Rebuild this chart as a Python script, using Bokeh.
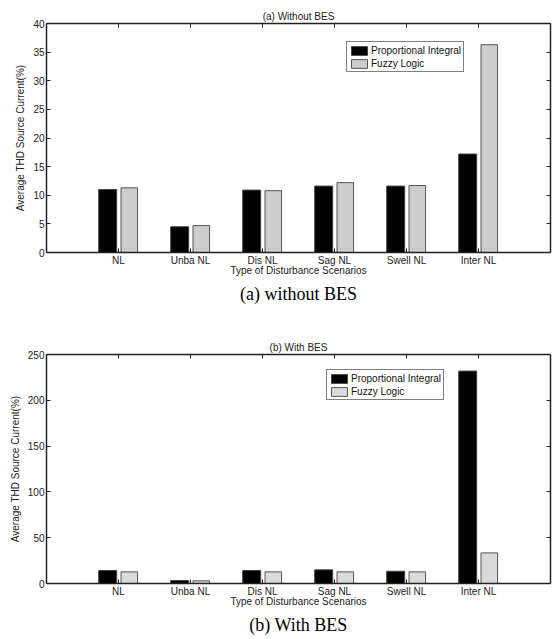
from bokeh.plotting import figure
from bokeh.models import LinearAxis, FixedTicker, Title, Legend, LegendItem, Range1d
from bokeh.layouts import column
from bokeh.embed import file_html
from bokeh.resources import INLINE

categories = ["NL", "Unba NL", "Dis NL", "Sag NL", "Swell NL", "Inter NL"]
pi_without = [11.0, 4.5, 10.9, 11.6, 11.6, 17.2]
fl_without = [11.3, 4.7, 10.8, 12.2, 11.7, 36.3]
pi_with = [14.2, 3.3, 14.2, 14.9, 13.4, 231.9]
fl_with = [12.7, 2.9, 12.7, 12.7, 12.7, 33.4]
yticks_without = [0, 5, 10, 15, 20, 25, 30, 35, 40]
yticks_with = [0, 50, 100, 150, 200, 250]
series_names = ["Proportional Integral", "Fuzzy Logic"]

SANS = "Liberation Sans"
SERIF = "Liberation Serif"
AX = "#222222"


def style_axis(ax, labels=True):
    ax.axis_line_color = AX
    ax.axis_line_width = 1.5
    ax.major_tick_line_color = AX
    ax.major_tick_line_width = 1
    ax.major_tick_in = 4
    ax.major_tick_out = 0
    ax.minor_tick_line_color = None
    ax.major_label_text_font = SANS
    ax.major_label_text_font_size = "10px"
    ax.major_label_text_color = "#222222"
    ax.major_label_standoff = 2
    if not labels:
        ax.major_label_text_alpha = 0
        ax.major_label_text_font_size = "1px"
        ax.major_label_standoff = 0


def make_panel(title, caption, pi, fl, yticks, gray, legend_loc, min_top, min_bottom,
               title_standoff, cap_standoff):
    xs = [i + 1 for i in range(len(categories))]
    p = figure(frame_width=504, frame_height=229,
               x_range=Range1d(0, len(categories) + 1),
               y_range=Range1d(yticks[0], yticks[-1]),
               output_backend="svg", toolbar_location=None,
               min_border_left=46, min_border_right=4,
               min_border_top=min_top, min_border_bottom=min_bottom,
               x_axis_location=None, y_axis_location=None)
    p.grid.visible = False
    p.outline_line_color = None
    p.background_fill_color = "white"

    p.title.text = title
    p.title.align = "center"
    p.title.text_font = SANS
    p.title.text_font_size = "10px"
    p.title.text_font_style = "normal"
    p.title.text_color = "#222222"
    p.title.offset = 0
    p.title.standoff = title_standoff

    xlabels = {x: c for x, c in zip(xs, categories)}
    xb = LinearAxis(ticker=FixedTicker(ticks=xs), major_label_overrides=xlabels,
                    axis_label="Type of Disturbance Scenarios")
    style_axis(xb)
    xb.axis_label_text_font = SANS
    xb.axis_label_text_font_size = "10px"
    xb.axis_label_text_font_style = "normal"
    xb.axis_label_text_color = "#222222"
    xb.axis_label_standoff = -4
    p.add_layout(xb, "below")

    yl = LinearAxis(ticker=FixedTicker(ticks=yticks), axis_label="Average THD Source Current(%)")
    style_axis(yl)
    yl.axis_label_text_font = SANS
    yl.axis_label_text_font_size = "10px"
    yl.axis_label_text_font_style = "normal"
    yl.axis_label_text_color = "#222222"
    yl.axis_label_standoff = 4
    p.add_layout(yl, "left")

    xt = LinearAxis(ticker=FixedTicker(ticks=xs))
    style_axis(xt, labels=False)
    p.add_layout(xt, "above")
    yr = LinearAxis(ticker=FixedTicker(ticks=yticks))
    style_axis(yr, labels=False)
    p.add_layout(yr, "right")

    r1 = p.vbar(x=[x - 0.15 for x in xs], top=pi, width=0.25, bottom=0,
                fill_color="black", line_color="#444444", line_width=1)
    r2 = p.vbar(x=[x + 0.15 for x in xs], top=fl, width=0.23, bottom=0,
                fill_color=gray, line_color="#555555", line_width=1)

    leg = Legend(items=[LegendItem(label=series_names[0], renderers=[r1]),
                        LegendItem(label=series_names[1], renderers=[r2])],
                 location=legend_loc)
    leg.border_line_color = "black"
    leg.border_line_width = 1
    leg.background_fill_color = "white"
    leg.background_fill_alpha = 1
    leg.padding = 2
    leg.margin = 0
    leg.spacing = 1
    leg.label_standoff = 2
    leg.glyph_width = 20
    leg.glyph_height = 11
    leg.label_height = 12
    leg.label_text_font = SANS
    leg.label_text_font_size = "10px"
    leg.label_text_color = "#111111"
    p.add_layout(leg, "center")

    cap = Title(text=caption, align="center", text_font=SERIF, text_font_size="18px",
                text_font_style="normal", text_color="black", standoff=cap_standoff, offset=0)
    p.add_layout(cap, "below")
    return p


p1 = make_panel("(a) Without BES", "(a) without BES", pi_without, fl_without,
                yticks_without, "#cccccc", (300, 180), 23, 86, 4, 6)
p2 = make_panel("(b) With BES", "(b) With BES", pi_with, fl_with,
                yticks_with, "#dadada", (280, 183), 15, 57, 3, 6)

layout = column(p1, p2, spacing=0)
open("out.html", "w").write(file_html(layout, INLINE))
